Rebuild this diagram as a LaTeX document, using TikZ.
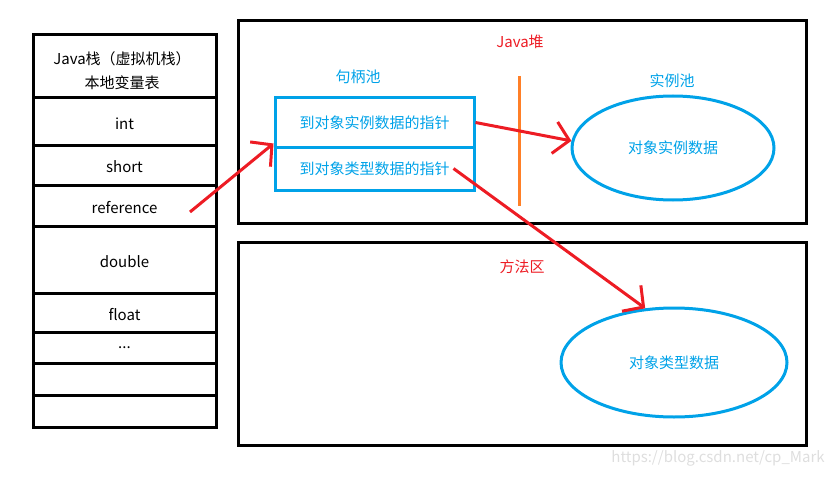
\documentclass[tikz,border=0pt]{standalone}
\usepackage{fontspec}
\setmainfont{Noto Sans CJK SC}
\usetikzlibrary{arrows.meta,shapes.geometric}
\definecolor{paintblue}{HTML}{00A2E8}
\definecolor{paintred}{HTML}{ED1C24}
\definecolor{paintorange}{HTML}{FF7F27}

\begin{document}
\begin{tikzpicture}[x=1pt, y=-1pt,
    every node/.style={font=\fontsize{15}{24}\selectfont, inner sep=0pt},
    cell/.style={draw, line width=3pt, minimum width=183pt, text height=15pt, text depth=0pt},
    area/.style={draw, line width=3pt},
    pool/.style={draw=paintblue, line width=3pt, text=paintblue},
    ref/.style={paintred, line width=3pt, -{Straight Barb[length=15pt,width=32pt]}}]
    \useasboundingbox (0, 0) rectangle (834, 476);
    \node[cell, minimum height=63pt] (s0) at (124.5, 66.5) {};
    \node[align=center] (s0t) at (122, 71) {Java栈（虚拟机栈）\\本地变量表};
    \node[cell, minimum height=47pt] (s1) at (124.5, 121.5) {int};
    \node[cell, minimum height=40pt] (s2) at (124.5, 165) {short};
    \node[cell, minimum height=41pt] (s3) at (124.5, 205.5) {reference};
    \node[cell, minimum height=67pt] (s4) at (124.5, 259.5) {double};
    \node[cell, minimum height=39pt] (s5) at (124.5, 312.5) {float};
    \node[cell, minimum height=31pt, text height=1pt] (s6) at (124.5, 347.5) {...};
    \node[cell, minimum height=32pt] (s7) at (124.5, 379) {};
    \node[cell, minimum height=32pt] (s8) at (124.5, 411) {};
    \node[area, minimum width=568pt, minimum height=202pt] (heap) at (522, 122) {};
    \node[area, minimum width=568pt, minimum height=203pt] (meth) at (522, 343.5) {};
    \node[text=paintred] (hl) at (520, 42) {Java堆};
    \node[text=paintred] (ml) at (522, 267) {方法区};
    \node[text=paintblue] (hpl) at (358, 77) {句柄池};
    \node[text=paintblue] (ipl) at (672, 81) {实例池};
    \node[pool, minimum width=199pt, minimum height=49pt] (hp1) at (374.5, 122.5) {到对象实例数据的指针};
    \node[pool, minimum width=199pt, minimum height=43pt] (hp2) at (374.5, 168.5) {到对象类型数据的指针};
    \node[pool, ellipse, minimum width=202pt, minimum height=104pt] (ip) at (673, 148) {对象实例数据};
    \node[pool, ellipse, minimum width=226pt, minimum height=109pt] (tp) at (674, 362.5) {对象类型数据};
    \node[text=black!13] (wm) at (718, 458) {https://blog.csdn.net/cp\_Mark};
    \draw[paintorange, line width=3pt] (519, 76) -- (519, 206);
    \coordinate (r) at (190, 212);
    \draw[ref] (r) -- ([yshift=5pt]hp1.south west);
    \draw[ref] (hp1.east) -- (ip.176);
    \draw[ref] ([xshift=-22pt]hp2.east) -- (tp.118);
\end{tikzpicture}
\end{document}
